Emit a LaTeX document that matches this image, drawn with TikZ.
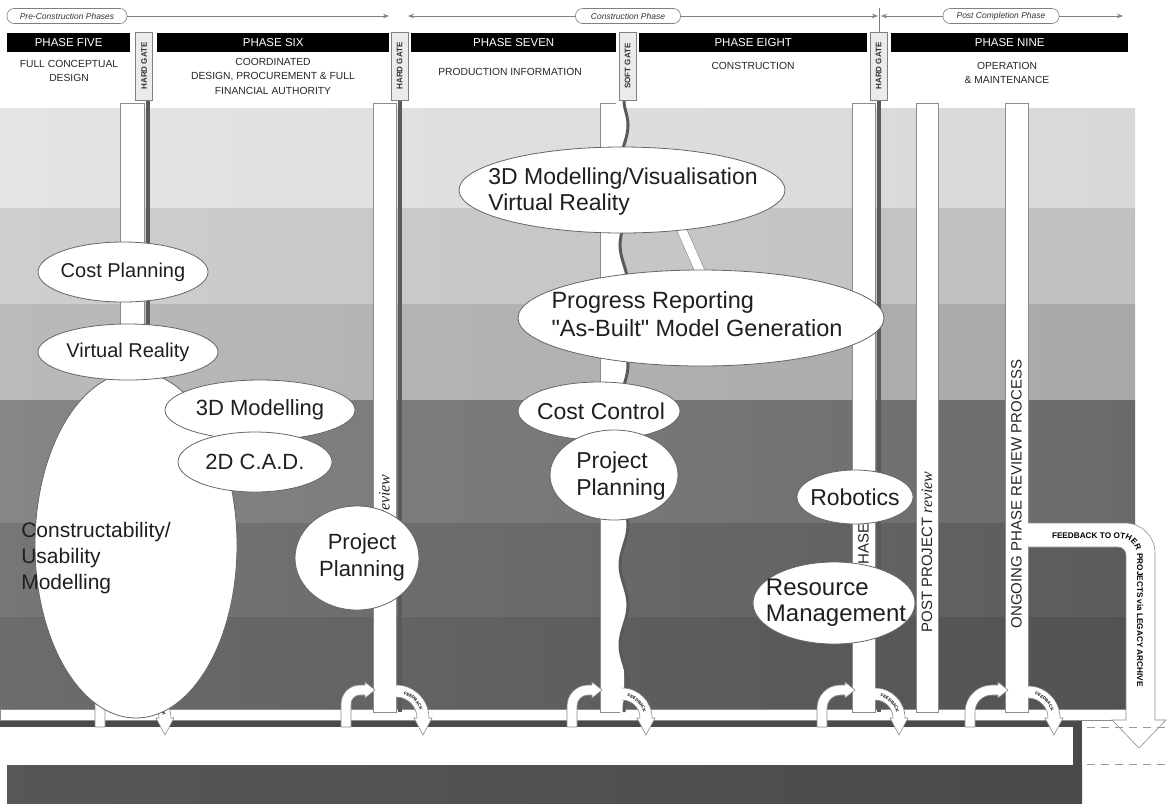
\documentclass[tikz,border=0pt]{standalone}
\usepackage{fontspec}
\setmainfont{Liberation Sans}
\setsansfont{Liberation Sans}
\newfontfamily\rvwfont{Liberation Serif}
\usetikzlibrary{shapes.geometric,decorations.pathmorphing,decorations.text,arrows.meta}
\definecolor{bAl}{HTML}{E4E4E4}\definecolor{bAr}{HTML}{D8D8D8}
\definecolor{bBl}{HTML}{CECECE}\definecolor{bBr}{HTML}{C0C0C0}
\definecolor{bCl}{HTML}{BABABA}\definecolor{bCr}{HTML}{A8A8A8}
\definecolor{bDl}{HTML}{868686}\definecolor{bDr}{HTML}{6A6A6A}
\definecolor{bEl}{HTML}{767676}\definecolor{bEr}{HTML}{5C5C5C}
\definecolor{bFl}{HTML}{6C6C6C}\definecolor{bFr}{HTML}{525252}
\definecolor{darkfr}{HTML}{4A4A4A}
\definecolor{gatec}{HTML}{5A5A5A}
\newcommand\LeftArr[3]{%
  \draw[arrw] ({#1-5},727) -- ({#1-5},{690+#2}) arc[start angle=180,end angle=270,radius={#2+5}]
    -- ({#3-10},685) -- ({#3-10},682) -- (#3,690) -- ({#3-10},698) -- ({#3-10},695)
    -- ({#1+#2},695) arc[start angle=270,end angle=180,radius={#2-5}] -- ({#1+5},727) -- cycle;}
\newcommand\FeedArc[2]{%
  \fill[white] (#1,{718-#2-6}) arc[start angle=270,end angle=360,radius={#2+6}]
    -- ({#1+#2+9},718) -- ({#1+#2},735) -- ({#1+#2-9},718) -- ({#1+#2-6},718)
    arc[start angle=0,end angle=-90,radius={#2-6}] -- cycle;
  \draw[outl] (#1,{718-#2-6}) arc[start angle=270,end angle=360,radius={#2+6}]
    -- ({#1+#2+9},718) -- ({#1+#2},735) -- ({#1+#2-9},718) -- ({#1+#2-6},718)
    arc[start angle=0,end angle=-90,radius={#2-6}];
  \path[decorate,decoration={text along path,text align=center,
    text={|\fontsize{4.3}{5}\selectfont\bfseries|FEEDBACK}}]
    (#1,{718-#2+2}) arc[start angle=270,end angle=360,radius={#2-2}];}
\begin{document}
\begin{tikzpicture}[x=1pt,y=-1pt,
  outl/.style={draw=black!45,line width=0.6pt},
  arrw/.style={draw=black!45,line width=0.6pt,fill=white},
  col/.style={draw=black!45,line width=0.6pt,fill=white},
  gateln/.style={draw=gatec,line width=3.5pt},
  bub/.style={ellipse,draw=black!60,line width=0.8pt,fill=white,inner sep=0pt},
  btxt/.style={text=black!88,align=left,inner sep=0pt},
  ctxt/.style={text=black!85,inner sep=0pt,font=\fontsize{15}{16}\selectfont},
  hbar/.style={fill=black,text=white,font=\fontsize{11.5}{12}\selectfont,minimum height=19pt,inner sep=0pt,anchor=north west},
  gbox/.style={fill=black!8,draw=black!50,line width=0.6pt,minimum width=68pt,minimum height=17pt,inner sep=0pt,font=\fontsize{8}{8}\selectfont\bfseries,text=black!80},
  subt/.style={font=\fontsize{10.3}{14.5}\selectfont,text=black!85,align=center,inner sep=0pt},
  plbl/.style={draw=black!50,line width=0.6pt,rounded corners=7pt,font=\fontsize{8.5}{9}\selectfont\itshape,text=black!80,minimum height=15pt,inner sep=1pt},
  tline/.style={draw=black!50,line width=0.6pt},
  tip/.style={-{Stealth[length=6pt,width=4.5pt]}}
]
\useasboundingbox (0,0) rectangle (1169,807);
\fill[white] (0,0) rectangle (1169,807);
% background bands
\shade[left color=bAl,right color=bAr] (0,108) rectangle (1135,208);
\shade[left color=bBl,right color=bBr] (0,208) rectangle (1135,304);
\shade[left color=bCl,right color=bCr] (0,304) rectangle (1135,400);
\shade[left color=bDl,right color=bDr] (0,400) rectangle (1135,523);
\shade[left color=bEl,right color=bEr] (0,523) rectangle (1135,617);
\shade[left color=bFl,right color=bFr] (0,617) rectangle (1135,709);
% bottom dark frame
\fill[darkfr] (0,720) rectangle (1082,727);
\fill[darkfr] (1073,720) rectangle (1082,803);
\shade[left color=black!66,right color=darkfr] (7,765) rectangle (1082,803);
% feedback pipe
\draw[col] (0,709) rectangle (1127,720);
% gate lines
\draw[gateln] (148,100) -- (148,712);
\draw[gateln] (400,100) -- (400,712);
\draw[gateln] (879,100) -- (879,712);
% columns
\draw[col] (120,103) rectangle (144,712);
\draw[col] (373,103) rectangle (396,712);
\draw[col] (852,103) rectangle (875,712);
\draw[col] (916,103) rectangle (938,712);
\draw[col] (1005,103) rectangle (1028,712);
\fill[white] (600,103) -- (624,103) decorate[decoration={snake,amplitude=4pt,segment length=80pt}]{-- (624,712)} -- (600,712) -- cycle;
\draw[outl] (616,103) -- (600,103) -- (600,712) -- (620,712);
\draw[draw=gatec,line width=3pt,decorate,decoration={snake,amplitude=4pt,segment length=80pt}] (624,100) -- (624,712);
% big feedback arrow
\fill[white] (1027,523) -- (1125,523) arc[start angle=270,end angle=360,radius=30] -- (1155,720) -- (1166,720) -- (1139,748) -- (1112,720) -- (1126,720) -- (1126,555) arc[start angle=0,end angle=-90,radius=8] -- (1027,547) -- cycle;
\draw[outl] (1028,523) -- (1125,523) arc[start angle=270,end angle=360,radius=30] -- (1155,720) -- (1166,720) -- (1139,748) -- (1112,720) -- (1126,720) -- (1126,555) arc[start angle=0,end angle=-90,radius=8] -- (1028,547);
\path[decorate,decoration={text along path,
  text={|\fontsize{8.2}{9}\selectfont\bfseries|FEEDBACK TO OTHER PROJECTS via LEGACY ARCHIVE}}]
  (1052,538.5) -- (1120,538.5) arc[start angle=270,end angle=360,radius=17] -- (1137,720);
% loop arrows into the columns
\LeftArr{100}{8}{122}
\LeftArr{346}{14}{375}
\LeftArr{572}{16}{602}
\LeftArr{822}{18}{855}
\LeftArr{970}{22}{1008}
% feedback arcs out of the columns
\FeedArc{144}{21}
\FeedArc{396}{27}
\FeedArc{622}{24}
\FeedArc{875}{24}
\FeedArc{1028}{26}
% column texts
\node[ctxt,rotate=90] (r2) at (384.5,523) {PHASE {\rvwfont\itshape\fontsize{16}{16}\selectfont review}};
\node[ctxt,rotate=90] (r4) at (863.5,526) {PHASE {\rvwfont\itshape\fontsize{16}{16}\selectfont review}};
\node[ctxt,rotate=90] (r5) at (927,552) {POST PROJECT {\rvwfont\itshape\fontsize{16}{16}\selectfont review}};
\node[ctxt,rotate=90] (r6) at (1016.5,494) {ONGOING PHASE REVIEW PROCESS};
% link between 3D modelling and progress reporting
\coordinate (d1) at (680,226);
\coordinate (d2) at (703,278);
\draw[draw=black!45,line width=0.6pt,double=white,double distance=9pt] (d1) -- (d2);
% ellipses, left group
\node[bub,minimum width=170pt,minimum height=60pt] (e1) at (123,272) {};
\node[btxt,font=\fontsize{20}{24}\selectfont] (t1) at (e1) {Cost Planning};
\node[bub,minimum width=202pt,minimum height=346pt] (e3) at (136,545) {};
\node[btxt,font=\fontsize{21}{26}\selectfont] (t3) at (96,558) {Constructability/\\Usability\\Modelling};
\node[bub,minimum width=180pt,minimum height=56pt] (e2) at (128,352) {};
\node[btxt,font=\fontsize{20}{24}\selectfont] (t2) at (e2) {Virtual Reality};
\node[bub,minimum width=190pt,minimum height=60pt] (e4) at (260,410) {};
\node[btxt,font=\fontsize{22}{24}\selectfont] (t4) at (e4) {3D Modelling};
\node[bub,minimum width=154pt,minimum height=60pt] (e5) at (255,462) {};
\node[btxt,font=\fontsize{22}{24}\selectfont] (t5) at (e5) {2D C.A.D.};
\node[bub,minimum width=124pt,minimum height=104pt] (e6) at (357,558) {};
\node[btxt,font=\fontsize{22}{27}\selectfont,align=center] (t6) at (362,557) {Project\\Planning};
% ellipses, construction group
\node[bub,minimum width=326pt,minimum height=86pt] (e7) at (622,190) {};
\node[btxt,font=\fontsize{23}{26}\selectfont] (t7) at (623,192) {3D Modelling/Visualisation\\Virtual Reality};
\node[bub,minimum width=366pt,minimum height=96pt] (e8) at (701,318) {};
\node[btxt,font=\fontsize{23.5}{28}\selectfont] (t8) at (697,314) {Progress Reporting\\\textquotedbl As-Built\textquotedbl{} Model Generation};
\node[bub,minimum width=162pt,minimum height=58pt] (e9) at (599,411) {};
\node[btxt,font=\fontsize{23}{24}\selectfont] (t9) at (601,411) {Cost Control};
\node[bub,minimum width=128pt,minimum height=90pt] (e10) at (614,475) {};
\node[btxt,font=\fontsize{23}{27}\selectfont] (t10) at (621,476) {Project\\Planning};
\node[bub,minimum width=116pt,minimum height=54pt] (e11) at (855,497) {};
\node[btxt,font=\fontsize{23}{24}\selectfont] (t11) at (855,497) {Robotics};
\node[bub,minimum width=162pt,minimum height=82pt] (e12) at (834,603) {};
\node[btxt,font=\fontsize{24}{26}\selectfont] (t12) at (836,603) {Resource\\Management};
% header bars
\node[hbar,minimum width=123pt] (p5) at (7,33) {PHASE FIVE};
\node[hbar,minimum width=232pt] (p6) at (157,33) {PHASE SIX};
\node[hbar,minimum width=205pt] (p7) at (411,33) {PHASE SEVEN};
\node[hbar,minimum width=228pt] (p8) at (639,33) {PHASE EIGHT};
\node[hbar,minimum width=237pt] (p9) at (891,33) {PHASE NINE};
% gate boxes
\node[gbox,rotate=90] (g1) at (144,66) {HARD GATE};
\node[gbox,rotate=90] (g2) at (399.5,66) {HARD GATE};
\node[gbox,rotate=90] (g3) at (627.5,66) {SOFT GATE};
\node[gbox,rotate=90] (g4) at (878.5,66) {HARD GATE};
% subtitles
\node[subt] (s5) at (69,71) {FULL CONCEPTUAL\\DESIGN};
\node[subt] (s6) at (273,76) {COORDINATED\\DESIGN, PROCUREMENT \& FULL\\FINANCIAL AUTHORITY};
\node[subt] (s7) at (510,72) {PRODUCTION INFORMATION};
\node[subt] (s8) at (753,66) {CONSTRUCTION};
\node[subt] (s9) at (1007,73) {OPERATION\\\& MAINTENANCE};
% top phase arrows
\node[plbl,minimum width=120pt] (pre) at (67,16) {Pre-Construction Phases};
\node[plbl,minimum width=105pt] (con) at (628,16) {Construction Phase};
\node[plbl,minimum width=116pt] (post) at (1001,16) {Post Completion Phase};
\coordinate (a1) at (389,16);
\coordinate (a2) at (408,16);
\coordinate (a3) at (878,16);
\coordinate (a4) at (881,16);
\coordinate (a5) at (1123,16);
\coordinate (tk1) at (879.5,8);
\coordinate (tk2) at (879.5,32);
\draw[tline,tip] (pre) -- (a1);
\draw[tline,tip] (con) -- (a2);
\draw[tline,tip] (con) -- (a3);
\draw[tline,tip] (post) -- (a4);
\draw[tline,tip] (post) -- (a5);
\draw[tline,line width=1pt] (tk1) -- (tk2);
% dashed guides at right
\coordinate (q1) at (1087,727);
\coordinate (q2) at (1165,727);
\coordinate (q3) at (1087,764);
\coordinate (q4) at (1165,764);
\draw[draw=black!40,line width=0.9pt,dash pattern=on 8pt off 6pt] (q1) -- (q2);
\draw[draw=black!40,line width=0.9pt,dash pattern=on 8pt off 6pt] (q3) -- (q4);
\end{tikzpicture}
\end{document}
